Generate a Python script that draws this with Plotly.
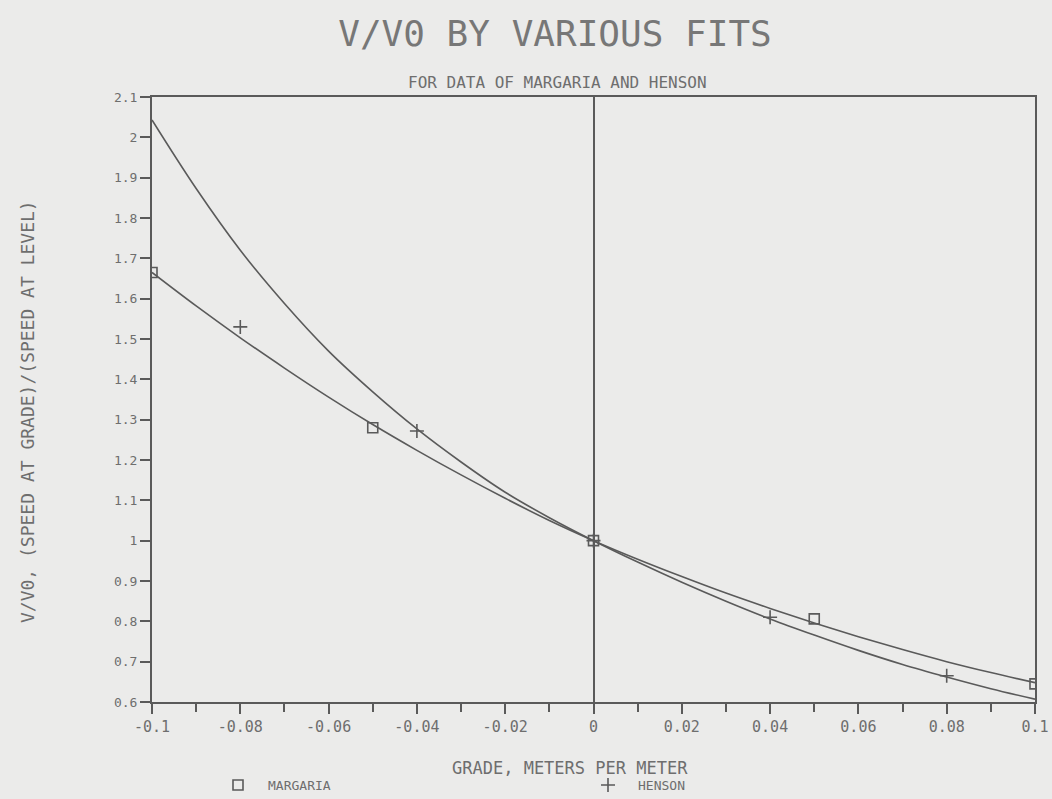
import plotly.graph_objects as go

# ---- data ----
grade_fit = [-0.10, -0.09, -0.08, -0.07, -0.06, -0.05, -0.04, -0.03, -0.02, -0.01, 0.00,
             0.01, 0.02, 0.03, 0.04, 0.05, 0.06, 0.07, 0.08, 0.09, 0.10]
fit_margaria = [1.665, 1.582, 1.503, 1.428, 1.356, 1.288, 1.224, 1.163, 1.105, 1.050, 1.000,
                0.954, 0.911, 0.870, 0.832, 0.796, 0.762, 0.730, 0.700, 0.673, 0.648]
fit_henson = [2.043, 1.873, 1.720, 1.588, 1.470, 1.369, 1.277, 1.195, 1.120, 1.057, 1.000,
              0.947, 0.897, 0.850, 0.806, 0.766, 0.728, 0.693, 0.662, 0.633, 0.607]

margaria_x = [-0.10, -0.05, 0.00, 0.05, 0.10]
margaria_y = [1.665, 1.280, 1.000, 0.806, 0.645]
henson_x = [-0.08, -0.04, 0.00, 0.04, 0.08]
henson_y = [1.530, 1.272, 1.000, 0.810, 0.665]

x_tickvals = [-0.1, -0.08, -0.06, -0.04, -0.02, 0, 0.02, 0.04, 0.06, 0.08, 0.1]
x_ticktext = ["-0.1", "-0.08", "-0.06", "-0.04", "-0.02", "0", "0.02", "0.04", "0.06", "0.08", "0.1"]
y_tickvals = [0.6, 0.7, 0.8, 0.9, 1.0, 1.1, 1.2, 1.3, 1.4, 1.5, 1.6, 1.7, 1.8, 1.9, 2.0, 2.1]
y_ticktext = ["0.6", "0.7", "0.8", "0.9", "1", "1.1", "1.2", "1.3", "1.4", "1.5", "1.6",
              "1.7", "1.8", "1.9", "2", "2.1"]

INK = "#5a5a5a"
TXT = "#6e6e6e"
BG = "#ebebea"
FONT = "DejaVu Sans Mono"

fig = go.Figure()
fig.add_trace(go.Scatter(x=grade_fit, y=fit_henson, mode="lines", line=dict(color=INK, width=1.6, shape="spline"),
                         showlegend=False, hoverinfo="skip"))
fig.add_trace(go.Scatter(x=grade_fit, y=fit_margaria, mode="lines", line=dict(color=INK, width=1.6, shape="spline"),
                         showlegend=False, hoverinfo="skip"))
fig.add_trace(go.Scatter(x=margaria_x, y=margaria_y, mode="markers", name="MARGARIA",
                         marker=dict(symbol="square-open", size=10, color=INK, line=dict(width=1.6, color=INK))))
fig.add_trace(go.Scatter(x=henson_x, y=henson_y, mode="markers", name="HENSON",
                         marker=dict(symbol="cross-thin-open", size=10, color=INK, line=dict(width=1.6, color=INK))))

W, H = 1052, 799
L, R, T, B = 152, 17, 97, 97
pw, ph = W - L - R, H - T - B

def px_x(p):
    return (p - L) / pw

def px_y(p):
    return (H - B - p) / ph

fig.update_layout(
    width=W, height=H,
    margin=dict(l=L, r=R, t=T, b=B, autoexpand=False),
    paper_bgcolor=BG, plot_bgcolor=BG,
    font=dict(family=FONT, color=TXT, size=13),
    title=dict(text="V/V0 BY VARIOUS FITS", x=555 / W, xanchor="center", xref="container",
               y=1 - 33 / H, yanchor="middle", yref="container",
               font=dict(family=FONT, size=36, color="#777777")),
    showlegend=True,
    legend=dict(orientation="h", x=px_x(208), xanchor="left", y=px_y(785), yanchor="middle",
                entrywidth=305, entrywidthmode="pixels", itemwidth=50, bgcolor="rgba(0,0,0,0)",
                font=dict(family=FONT, size=13, color=TXT), itemclick=False),
    annotations=[
        dict(text="FOR DATA OF MARGARIA AND HENSON", x=px_x(557), y=px_y(82), xref="paper", yref="paper",
             showarrow=False, xanchor="center", yanchor="middle", font=dict(family=FONT, size=16, color=TXT)),
        dict(text="GRADE, METERS PER METER", x=px_x(570), y=px_y(768), xref="paper", yref="paper",
             showarrow=False, xanchor="center", yanchor="middle", font=dict(family=FONT, size=17, color=TXT)),
        dict(text="V/V0, (SPEED AT GRADE)/(SPEED AT LEVEL)", x=px_x(27), y=px_y(412), xref="paper", yref="paper",
             showarrow=False, xanchor="center", yanchor="middle", textangle=-90,
             font=dict(family=FONT, size=18, color=TXT)),
    ],
)

fig.update_xaxes(range=[-0.1, 0.1], tickvals=x_tickvals, ticktext=x_ticktext, automargin=False,
                 ticks="outside", ticklen=10, tickwidth=1.5, tickcolor=INK,
                 minor=dict(dtick=0.01, tick0=0, ticks="outside", ticklen=8, tickwidth=1.5, tickcolor=INK, showgrid=False),
                 showgrid=False, zeroline=True, zerolinecolor=INK, zerolinewidth=1.6,
                 showline=True, linecolor=INK, linewidth=2, mirror=True,
                 tickfont=dict(family=FONT, size=15, color=TXT))
fig.update_yaxes(range=[0.6, 2.1], tickvals=y_tickvals, ticktext=y_ticktext, automargin=False,
                 ticks="outside", ticklen=10, tickwidth=1.5, tickcolor=INK,
                 showgrid=False, zeroline=False,
                 showline=True, linecolor=INK, linewidth=2, mirror=True,
                 tickfont=dict(family=FONT, size=13, color=TXT))

fig.write_html("out.html", config={"displayModeBar": False},
               post_script="document.body.style.margin='0';document.body.style.overflow='hidden';")
